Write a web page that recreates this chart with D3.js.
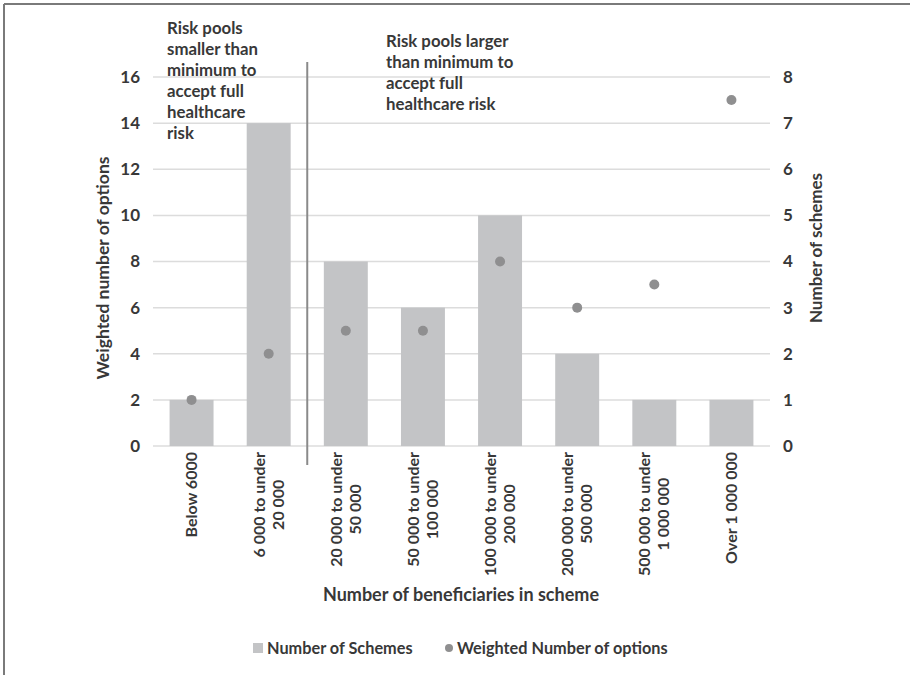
<!DOCTYPE html>
<html>
<head>
<meta charset="utf-8">
<script src="https://cdn.jsdelivr.net/npm/d3@7"></script>
<style>
  html, body { margin: 0; padding: 0; background: #fff; }
  svg text { font-family: Lato, "Open Sans", sans-serif; font-weight: 700; fill: #383838; }
</style>
</head>
<body>
<svg id="chart" width="910" height="675"></svg>
<script>
// Beneficiary bands (each label split into its printed lines)
const categories = [
  ["Below 6000"],
  ["6 000 to under", "20 000"],
  ["20 000 to under", "50 000"],
  ["50 000 to under", "100 000"],
  ["100 000 to under", "200 000"],
  ["200 000 to under", "500 000"],
  ["500 000 to under", "1 000 000"],
  ["Over 1 000 000"]
];
// Number of schemes per band (right axis)
const schemes = [1, 7, 4, 3, 5, 2, 1, 1];
// Weighted number of options per band (left axis)
const weightedOptions = [2, 4, 5, 5, 8, 6, 7, 15];
const leftTicks = [0, 2, 4, 6, 8, 10, 12, 14, 16];
const rightTicks = [0, 1, 2, 3, 4, 5, 6, 7, 8];
const noteSmaller = ["Risk pools", "smaller than", "minimum to", "accept full", "healthcare", "risk"];
const noteLarger = ["Risk pools larger", "than minimum to", "accept full", "healthcare risk"];

const svg = d3.select("#chart");
const m = { left: 153, right: 770, top: 77, bottom: 446 };

const keys = categories.map((d, i) => i);
const x = d3.scaleBand().domain(keys).range([m.left, m.right]).paddingInner(0.43).paddingOuter(0.215);
const yL = d3.scaleLinear().domain([0, 16]).range([m.bottom, m.top]);
const yR = d3.scaleLinear().domain([0, 8]).range([m.bottom, m.top]);

// Frame lines (top and left)
svg.append("line").attr("x1", 4).attr("x2", 910).attr("y1", 4).attr("y2", 4)
  .attr("stroke", "#7a7a7a").attr("stroke-width", 2);
svg.append("line").attr("x1", 4).attr("x2", 4).attr("y1", 4).attr("y2", 675)
  .attr("stroke", "#7a7a7a").attr("stroke-width", 2);

// Gridlines
svg.append("g").selectAll("line").data(leftTicks).join("line")
  .attr("x1", m.left).attr("x2", m.right)
  .attr("y1", d => yL(d)).attr("y2", d => yL(d))
  .attr("stroke", "#dcdcdc").attr("stroke-width", 1.5);

// Left axis
const axL = svg.append("g").attr("transform", `translate(${m.left},0)`)
  .call(d3.axisLeft(yL).tickValues(leftTicks).tickSize(0).tickPadding(13));
axL.select(".domain").remove();
axL.selectAll("text").style("font-size", "17px").attr("fill", "#383838");

// Right axis
const axR = svg.append("g").attr("transform", `translate(${m.right},0)`)
  .call(d3.axisRight(yR).tickValues(rightTicks).tickSize(0).tickPadding(13));
axR.select(".domain").remove();
axR.selectAll("text").style("font-size", "17px").attr("fill", "#383838");

// Bars: number of schemes
svg.append("g").selectAll("rect").data(schemes).join("rect")
  .attr("x", (d, i) => x(i)).attr("width", x.bandwidth())
  .attr("y", d => yR(d)).attr("height", d => yR(0) - yR(d))
  .attr("fill", "#c3c4c6");

// Points: weighted number of options
svg.append("g").selectAll("circle").data(weightedOptions).join("circle")
  .attr("cx", (d, i) => x(i) + x.bandwidth() / 2).attr("cy", d => yL(d))
  .attr("r", 5).attr("fill", "#8f8f90");

// Divider between small and large risk pools
const divX = (x(1) + x.bandwidth() + x(2)) / 2;
svg.append("line").attr("x1", divX).attr("x2", divX).attr("y1", 62).attr("y2", 465)
  .attr("stroke", "#8a8a8a").attr("stroke-width", 2);

// Category labels, rotated; multi-line labels are centred as a block hanging from the axis
const catG = svg.append("g");
categories.forEach((lines, i) => {
  const cx = x(i) + x.bandwidth() / 2;
  const n = lines.length;
  const nodes = lines.map(t => catG.append("text")
    .attr("text-anchor", "middle").style("font-size", "16px").text(t));
  const maxLen = d3.max(nodes, s => s.node().getComputedTextLength());
  nodes.forEach((s, j) => {
    const off = (j - (n - 1) / 2) * 19;
    s.attr("transform", `translate(${cx + off + 5.5},${452 + maxLen / 2}) rotate(-90)`);
  });
});

// Axis titles
svg.append("text").attr("transform", "translate(109,268) rotate(-90)")
  .attr("text-anchor", "middle").style("font-size", "17.5px").text("Weighted number of options");
svg.append("text").attr("transform", "translate(822,248) rotate(-90)")
  .attr("text-anchor", "middle").style("font-size", "17px").text("Number of schemes");
svg.append("text").attr("x", 461).attr("y", 601)
  .attr("text-anchor", "middle").style("font-size", "18px").text("Number of beneficiaries in scheme");

// Annotations
const note = (lines, x0, y0) => {
  const t = svg.append("text").attr("x", x0).attr("y", y0).style("font-size", "16.8px");
  lines.forEach((s, i) => t.append("tspan").attr("x", x0).attr("dy", i ? 21 : 0).text(s));
};
note(noteSmaller, 167, 34);
note(noteLarger, 386, 47);

// Legend
const lg = svg.append("g");
lg.append("rect").attr("x", 253).attr("y", 643).attr("width", 10).attr("height", 10).attr("fill", "#c3c4c6");
lg.append("text").attr("x", 267).attr("y", 654).style("font-size", "16.3px").text("Number of Schemes");
lg.append("circle").attr("cx", 449).attr("cy", 648).attr("r", 4).attr("fill", "#8f8f90");
lg.append("text").attr("x", 457).attr("y", 654).style("font-size", "16.3px").text("Weighted Number of options");
</script>
</body>
</html>
